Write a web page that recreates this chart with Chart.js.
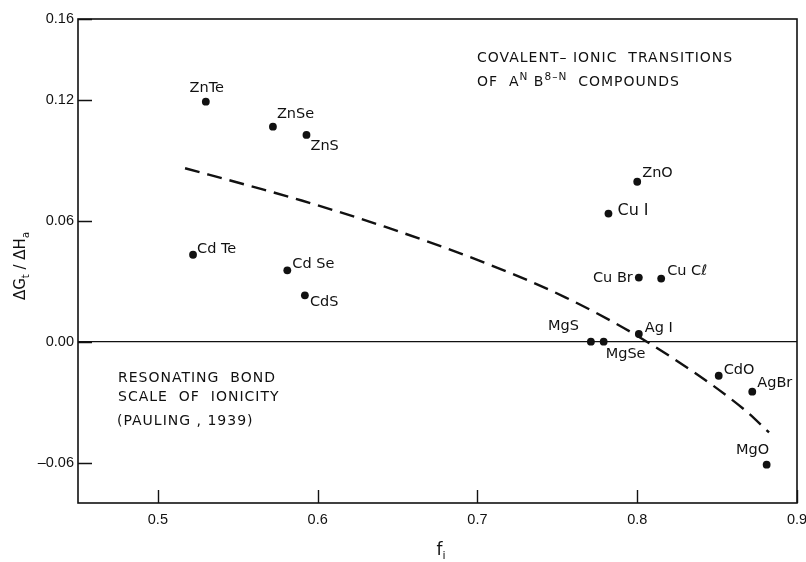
<!DOCTYPE html>
<html><head><meta charset="utf-8">
<script src="https://cdn.jsdelivr.net/npm/chart.js@4"></script>
<style>html,body{margin:0;padding:0;background:#fff}#wrap{width:806px;height:562px}</style>
</head><body><div id="wrap"><canvas id="c" width="806" height="562"></canvas></div>
<script>
// ---- data ----
const compounds = ["ZnTe","ZnSe","ZnS","Cd Te","Cd Se","CdS","ZnO","Cu I","Cu Br","Cu C\u2113","MgS","MgSe","Ag I","CdO","AgBr","MgO"];
const fiValues  = [0.530,0.572,0.593,0.522,0.581,0.592,0.800,0.782,0.801,0.815,0.771,0.779,0.801,0.851,0.872,0.881];
const dgValues  = [0.119,0.1066,0.1025,0.0431,0.0354,0.0230,0.0793,0.0635,0.0318,0.0313,0.0,0.0,0.0038,-0.0169,-0.0248,-0.0610];
const curveFi = [0.517,0.561,0.590,0.642,0.705,0.755,0.806,0.866,0.8825];
const curveDg = [0.086,0.0765,0.070,0.057,0.039,0.022,0.000,-0.033,-0.045];
const zeroFi = [0.45,0.90];
const zeroDg = [0,0];
const xTicks = [0.5,0.6,0.7,0.8,0.9];
const yTicks = [-0.06,0.00,0.06,0.12,0.16];

// ---- label styling (offsets in px from marker, alignment, font size) ----
const labelStyle = [
  [1,-13,'center',14.5],[4,-12,'left',14.5],[4,11,'left',14.5],[4,-6,'left',14.5],
  [5,-6,'left',14.5],[5,7,'left',14.5],[5,-9,'left',14.5],[9,-3,'left',16],
  [-6,1,'right',14.5],[6,-7,'left',14.5],[-12,-15,'right',14.5],[2,13,'left',14.5],
  [6,-6,'left',14.5],[5,-6,'left',14.5],[5,-8,'left',14.5],[-14,-14,'center',14.5]
];
const INK = '#111111';
const FONT = '"DejaVu Sans", sans-serif';

function drawRich(ctx, parts, x, y, align){
  let w = 0;
  parts.forEach(p=>{ ctx.font = p.size+'px '+FONT; w += ctx.measureText(p.t).width; });
  let cx = align==='center' ? x - w/2 : (align==='right' ? x - w : x);
  parts.forEach(p=>{
    ctx.font = p.size+'px '+FONT;
    ctx.textAlign='left';
    ctx.fillText(p.t, cx, y + (p.dy||0));
    cx += ctx.measureText(p.t).width;
  });
}

const overlay = {
  id:'overlay',
  afterDraw(chart){
    const ctx = chart.ctx, a = chart.chartArea;
    const xs = chart.scales.x, ys = chart.scales.y;
    ctx.save();
    ctx.strokeStyle = INK; ctx.lineWidth = 1.6;
    ctx.strokeRect(a.left, a.top, a.right-a.left, a.bottom-a.top);
    ctx.lineWidth = 1.4;
    ctx.beginPath();
    xTicks.forEach(v=>{ const px = Math.round(xs.getPixelForValue(v))+0.5; ctx.moveTo(px,a.bottom); ctx.lineTo(px,a.bottom-13); });
    yTicks.forEach(v=>{ const py = Math.round(ys.getPixelForValue(v))+0.5; ctx.moveTo(a.left,py); ctx.lineTo(a.left+14,py); });
    ctx.stroke();

    // point labels
    ctx.fillStyle = INK;
    ctx.textBaseline = 'middle';
    const meta = chart.getDatasetMeta(0);
    meta.data.forEach((pt,i)=>{
      const s = labelStyle[i];
      ctx.font = s[3]+'px '+FONT;
      ctx.textAlign = s[2];
      ctx.fillText(compounds[i], pt.x + s[0], pt.y + s[1]);
    });

    // annotations
    ctx.textBaseline = 'middle';
    ctx.textAlign = 'left';
    ctx.letterSpacing = '1px';
    ctx.font = '14px '+FONT;
    ctx.fillText('COVALENT\u2013 IONIC  TRANSITIONS', 477, 58);
    drawRich(ctx, [
      {t:'OF  A', size:14},{t:'N', size:10.5, dy:-5},{t:' B', size:14},{t:'8\u2013N', size:10.5, dy:-5},{t:'  COMPOUNDS', size:14}
    ], 477, 82, 'left');
    ctx.font = '14px '+FONT;
    ctx.fillText('RESONATING  BOND', 118, 378);
    ctx.fillText('SCALE  OF  IONICITY', 118, 397);
    ctx.fillText('(PAULING , 1939)', 117, 421);
    ctx.letterSpacing = '0px';

    // axis titles
    ctx.textBaseline = 'alphabetic';
    ctx.save();
    ctx.translate(25, 266);
    ctx.rotate(-Math.PI/2);
    drawRich(ctx, [
      {t:'\u0394G', size:15},{t:'t', size:10, dy:4},{t:' / \u0394H', size:15},{t:'a', size:10, dy:4}
    ], 0, 0, 'center');
    ctx.restore();
    drawRich(ctx, [{t:'f', size:17},{t:'i', size:11, dy:4}], 441, 555, 'center');
    ctx.restore();
  }
};

new Chart(document.getElementById('c'), {
  type:'scatter',
  data:{
    datasets:[
      { label:'compounds', data: fiValues.map((x,i)=>({x, y:dgValues[i]})),
        pointRadius:3.9, pointHoverRadius:3.9, backgroundColor:INK, borderWidth:0, order:0 },
      { label:'curve', type:'line', data: curveFi.map((x,i)=>({x, y:curveDg[i]})),
        showLine:true, borderColor:INK, borderWidth:2.4, borderDash:[15,8], pointRadius:0,
        cubicInterpolationMode:'monotone', fill:false, order:1 },
      { label:'zero', type:'line', data: zeroFi.map((x,i)=>({x, y:zeroDg[i]})),
        showLine:true, borderColor:INK, borderWidth:1.2, pointRadius:0, fill:false, order:2 }
    ]
  },
  options:{
    responsive:false, animation:false, devicePixelRatio:1,
    layout:{padding:{top:19,right:9,left:0,bottom:0}},
    plugins:{legend:{display:false}, tooltip:{enabled:false}},
    scales:{
      x:{ type:'linear', min:0.45, max:0.9,
        afterBuildTicks:s=>{ s.ticks = xTicks.map(v=>({value:v})); },
        afterFit:s=>{ s.height = 59; s.paddingLeft = 0; s.paddingRight = 0; },
        grid:{display:false, drawTicks:false}, border:{display:false},
        ticks:{ padding:8, color:INK, font:{family:'"Liberation Sans", sans-serif', size:14.5}, maxRotation:0,
          callback:v=>v.toFixed(1) } },
      y:{ type:'linear', min:-0.08, max:0.16,
        afterBuildTicks:s=>{ s.ticks = yTicks.map(v=>({value:v})); },
        afterFit:s=>{ s.width = 78; },
        grid:{display:false, drawTicks:false}, border:{display:false},
        ticks:{ padding:4, color:INK, font:{family:'"Liberation Sans", sans-serif', size:14.5},
          callback:v=>(v<0?'\u2013':'')+Math.abs(v).toFixed(2) } }
    }
  },
  plugins:[overlay]
});
</script></body></html>
